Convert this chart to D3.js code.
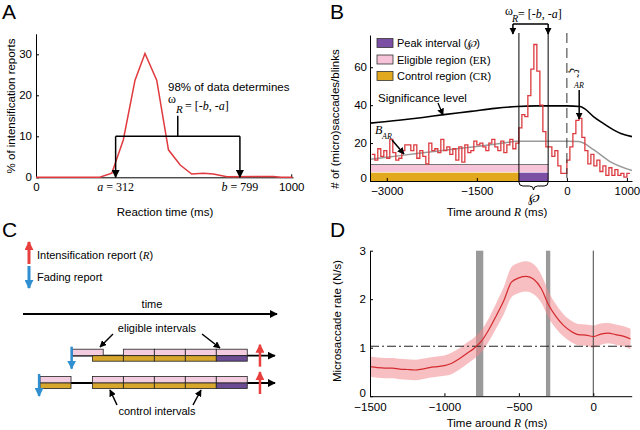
<!DOCTYPE html>
<html>
<head>
<meta charset="utf-8">
<script src="https://cdn.jsdelivr.net/npm/d3@7"></script>
<style>
body { margin: 0; background: #fff; }
svg { font-family: Arial, "Liberation Sans", sans-serif; }
.serif { font-family: "Liberation Serif", "Times New Roman", serif; }
</style>
</head>
<body>
<svg id="fig" width="640" height="430"></svg>
<script>
// ---------- A: reaction time distribution ----------
let rtTimes = [0, 250, 297, 342, 388, 427, 473, 519, 565, 610, 656, 695, 748, 930, 960, 1005]
let rtPercent = [0, 0, 1, 9.1, 23.7, 30.2, 23.7, 6.7, 3, 0.8, 1, 0.8, 0.15, 0.2, 0, 0]
let rtBounds = [312, 799]   // a, b
let aXTicks = [0, 1000]
let aYTicks = [0, 10, 20, 30]

// ---------- B: (micro)saccade histogram around R ----------
let histStart = -3250
let histBin = 50
let histCounts = [
    14, 11, 17, 13, 16, 12, 22, 15, 11, 12,
    16, 19, 19, 16, 19, 12, 16, 13, 9, 20,
    16, 17, 15, 22, 16, 18, 14, 17, 11, 18,
    10, 19, 15, 16, 21, 19, 20, 18, 16, 20,
    22, 18, 16, 21, 15, 19, 22, 17, 20,
    28, 35, 34, 45, 59, 72, 58, 40, 26,
    18, 18, 13, 16, 8, 4, 4,
    11, 18, 25, 32, 33, 23, 16, 9, 14, 8,
    11, 5, 8, 3, 7, 3, 6, 3, 4, 2, 4
]
let sigTimes = [-3280, -2800, -2400, -2050, -1600, -1200, -830, -500, 0, 220, 300, 443, 600, 722, 900, 1085]
let sigLevel = [30.5, 32, 33.5, 35, 36.7, 38.3, 39.3, 39.6, 39.6, 39.3, 38, 34, 30.5, 28, 25, 23.4]
let baseTimes = [-3280, -3000, -2500, -2000, -1500, -1000, -850, -500, 0, 200, 450, 720, 1085]
let baseLevel = [11.5, 12.5, 14.5, 16.4, 18.2, 20.3, 21, 21, 21, 20.8, 16.4, 10.2, 5.5]
let omegaR = [-799, -312]
let xiTime = 205
let bXTicks = [-3000, -1500, 0, 1000]
let bYTicks = [0, 20, 40, 60]
let legendNames = ["Peak interval (", "Eligible region (", "Control region ("]
let legendSymbols = ["\u2118", "ER", "CR"]
let legendColors = ["#7b4fa3", "#f6c3d9", "#e2a91e"]

// ---------- C: interval scheme (units of one interval) ----------
let fadeTimes = [-6.08, -7.13]
let eligibleStarts = [[-6.06, -4.41, -3.41, -2.41, -1.41], [-7.1, -5.41, -4.41, -3.41, -2.41, -1.41]]
let controlStarts = [[-5.41, -4.41, -3.41, -2.41], [-7.1, -5.41, -4.41, -3.41, -2.41]]
let peakStarts = [[-1.41], [-1.41]]

// ---------- D: microsaccade rate ----------
let dTimes = [-1500, -1450, -1400, -1350, -1300, -1250, -1200, -1150, -1100, -1050, -1000,
    -950, -900, -850, -800, -750, -700, -650, -600, -550, -500, -450, -400, -350, -300,
    -250, -200, -150, -100, -50, 0, 50, 100, 150, 200, 250]
let dRate = [0.61, 0.59, 0.58, 0.58, 0.56, 0.55, 0.54, 0.56, 0.59, 0.61, 0.63,
    0.68, 0.77, 0.88, 0.99, 1.14, 1.38, 1.67, 1.98, 2.35, 2.44, 2.47, 2.41, 2.22, 1.88,
    1.64, 1.46, 1.34, 1.27, 1.26, 1.23, 1.28, 1.30, 1.27, 1.24, 1.18]
let dSem = [0.21, 0.21, 0.21, 0.21, 0.21, 0.21, 0.21, 0.21, 0.21, 0.21, 0.21,
    0.22, 0.22, 0.22, 0.22, 0.23, 0.24, 0.26, 0.28, 0.31, 0.31, 0.31, 0.31, 0.29, 0.27,
    0.25, 0.23, 0.22, 0.22, 0.22, 0.23, 0.22, 0.21, 0.21, 0.21, 0.21]
let dBands = [[-788, -739], [-318, -289]]
let dThreshold = 1.03
let dXTicks = [-1500, -1000, -500, 0]
let dYTicks = [0, 1, 2, 3]


let svg = d3.select("#fig")
let defs = svg.append("defs")
let fmt = d3.format("d")

let addMarker = (id, color, size) => {
    defs.append("marker")
        .attr("id", id)
        .attr("viewBox", "0 0 10 10")
        .attr("refX", 9)
        .attr("refY", 5)
        .attr("markerUnits", "userSpaceOnUse")
        .attr("markerWidth", size)
        .attr("markerHeight", size)
        .attr("orient", "auto")
        .append("path")
        .attr("d", "M0,0 L10,5 L0,10 z")
        .attr("fill", color)
}
addMarker("arrK", "#000", 8)
addMarker("arrKs", "#000", 7)
addMarker("arrR", "#e8403f", 9)
addMarker("arrB", "#2f8fd0", 9)

let arrow = (x1, y1, x2, y2, marker, color, width) => {
    svg.append("line")
        .attr("x1", x1).attr("y1", y1).attr("x2", x2).attr("y2", y2)
        .attr("stroke", color).attr("stroke-width", width)
        .attr("marker-end", "url(#" + marker + ")")
}

let styleAxis = (g) => {
    g.attr("font-size", 11.5).attr("font-family", null)
    g.selectAll("text").attr("fill", "#000")
    g.selectAll("path, line").attr("stroke", "#000")
}

// lift the "0" label of a left axis a little, like the original
let liftZero = (g) => {
    g.selectAll(".tick text").filter(d => d === 0).attr("dy", "0.05em")
}

let panelLabel = (txt, x, y) => {
    svg.append("text").attr("x", x).attr("y", y).attr("font-size", 21).text(txt)
}

let serifText = (x, y, txt, size, italic, anchor) => {
    return svg.append("text").attr("class", "serif")
        .attr("x", x).attr("y", y)
        .attr("font-size", size)
        .attr("font-style", italic ? "italic" : null)
        .attr("text-anchor", anchor || "start")
        .text(txt)
}

// ================= Panel A =================
let drawA = () => {
    let x = d3.scaleLinear().domain([0, 1007]).range([36, 293])
    let y = d3.scaleLinear().domain([0, 35]).range([177.3, 33.8])

    svg.append("g").attr("transform", "translate(0,177.3)")
        .call(d3.axisBottom(x).tickValues(aXTicks).tickFormat(fmt).tickSizeInner(-3).tickSizeOuter(0).tickPadding(6))
        .call(styleAxis)
    svg.append("g").attr("transform", "translate(36,0)")
        .call(d3.axisLeft(y).tickValues(aYTicks).tickFormat(fmt).tickSizeInner(-3).tickSizeOuter(0).tickPadding(4))
        .call(styleAxis)

    svg.append("path")
        .datum(rtTimes.map((t, i) => [t, rtPercent[i]]))
        .attr("d", d3.line().x(d => x(d[0])).y(d => y(d[1])))
        .attr("fill", "none")
        .attr("stroke", "#e03a3e")
        .attr("stroke-width", 1.5)

    // bracket with arrows at a and b
    svg.append("line")
        .attr("x1", x(rtBounds[0])).attr("x2", x(rtBounds[1]))
        .attr("y1", y(10)).attr("y2", y(10))
        .attr("stroke", "#000").attr("stroke-width", 1.5)
    rtBounds.forEach(b => arrow(x(b), y(10), x(b), y(0), "arrK", "#000", 1.5))
    let mid = (x(rtBounds[0]) + x(rtBounds[1])) / 2
    svg.append("line").attr("x1", mid).attr("x2", mid).attr("y1", y(10)).attr("y2", 115.7)
        .attr("stroke", "#000").attr("stroke-width", 1.5)

    svg.append("text").attr("x", 168).attr("y", 91).attr("font-size", 11.5).text("98% of data determines")
    serifText(168, 103, "\u03c9", 12, false)
    serifText(176, 113, "R", 11, true)
    let t = serifText(185, 110, "= [-", 12, false)
    t.append("tspan").attr("font-style", "italic").text("b")
    t.append("tspan").text(", -")
    t.append("tspan").attr("font-style", "italic").text("a")
    t.append("tspan").text("]")

    let labs = ["a", "b"]
    rtBounds.forEach((b, i) => {
        let tt = serifText(x(b), 191, "", 12, false, "middle")
        tt.append("tspan").attr("font-style", "italic").text(labs[i])
        tt.append("tspan").text(" = " + b)
    })

    svg.append("text").attr("x", 165).attr("y", 216).attr("text-anchor", "middle")
        .attr("font-size", 11.5).text("Reaction time (ms)")
    svg.append("text").attr("transform", "translate(15,106) rotate(-90)")
        .attr("text-anchor", "middle").attr("font-size", 11.5).text("% of intensification reports")

    panelLabel("A", 2, 19)
}

// ================= Panel B =================
let drawB = () => {
    let x = d3.scaleLinear().domain([-3280, 1085]).range([370, 632])
    let y = d3.scaleLinear().domain([0, 77]).range([181, 35])

    // region bars
    svg.append("rect")
        .attr("x", x(-3280)).attr("width", x(omegaR[1]) - x(-3280))
        .attr("y", y(8.7)).attr("height", y(4.8) - y(8.7))
        .attr("fill", legendColors[1])
    svg.append("line")
        .attr("x1", x(-3280)).attr("x2", x(omegaR[1]))
        .attr("y1", y(8.7)).attr("y2", y(8.7))
        .attr("stroke", "#777").attr("stroke-width", 1)
    svg.append("rect")
        .attr("x", x(-3280)).attr("width", x(omegaR[0]) - x(-3280))
        .attr("y", y(4.4)).attr("height", y(0) - y(4.4))
        .attr("fill", legendColors[2])
    svg.append("rect")
        .attr("x", x(omegaR[0])).attr("width", x(omegaR[1]) - x(omegaR[0]))
        .attr("y", y(4.4)).attr("height", y(0) - y(4.4))
        .attr("fill", legendColors[0])

    // baseline and significance level
    svg.append("path")
        .datum(baseTimes.map((t, i) => [t, baseLevel[i]]))
        .attr("d", d3.line().x(d => x(d[0])).y(d => y(d[1])).curve(d3.curveMonotoneX))
        .attr("fill", "none").attr("stroke", "#9a9a9a").attr("stroke-width", 1.5)
    svg.append("path")
        .datum(sigTimes.map((t, i) => [t, sigLevel[i]]))
        .attr("d", d3.line().x(d => x(d[0])).y(d => y(d[1])).curve(d3.curveMonotoneX))
        .attr("fill", "none").attr("stroke", "#000").attr("stroke-width", 1.6)

    // histogram
    let pts = histCounts.map((c, i) => [histStart + i * histBin, c])
    pts.push([histStart + histCounts.length * histBin, histCounts[histCounts.length - 1]])
    svg.append("path")
        .datum(pts)
        .attr("d", d3.line().x(d => x(d[0])).y(d => y(d[1])).curve(d3.curveStepAfter))
        .attr("fill", "none").attr("stroke", "#dc3a3f").attr("stroke-width", 1.3)

    // omega lines and zero line
    omegaR.forEach(t => {
        svg.append("line").attr("x1", x(t)).attr("x2", x(t)).attr("y1", 33).attr("y2", y(0))
            .attr("stroke", "#000").attr("stroke-width", 1)
    })
    svg.append("line").attr("x1", x(0)).attr("x2", x(0)).attr("y1", 33).attr("y2", y(0))
        .attr("stroke", "#333").attr("stroke-width", 1).attr("stroke-dasharray", "10,5")

    svg.append("g").attr("transform", "translate(0,181)")
        .call(d3.axisBottom(x).tickValues(bXTicks).tickFormat(fmt).tickSizeInner(-3).tickSizeOuter(0).tickPadding(6))
        .call(styleAxis)
    svg.append("g").attr("transform", "translate(370,0)")
        .call(d3.axisLeft(y).tickValues(bYTicks).tickFormat(fmt).tickSizeInner(-3).tickSizeOuter(0).tickPadding(3))
        .call(styleAxis)
        .call(liftZero)

    // bracket on top
    svg.append("line").attr("x1", x(omegaR[0]) - 6).attr("x2", x(omegaR[1]))
        .attr("y1", 24).attr("y2", 24).attr("stroke", "#000").attr("stroke-width", 1.5)
    arrow(x(omegaR[0]) - 6, 24, x(omegaR[0]) - 6, 34, "arrKs", "#000", 1.5)
    arrow(x(omegaR[1]), 24, x(omegaR[1]), 34, "arrKs", "#000", 1.5)
    serifText(505, 15, "\u03c9", 12, false)
    serifText(512, 21.5, "R", 10, true)
    let t = serifText(518, 17.5, "= [-", 12, false)
    t.append("tspan").attr("font-style", "italic").text("b")
    t.append("tspan").text(", -")
    t.append("tspan").attr("font-style", "italic").text("a")
    t.append("tspan").text("]")

    // brace under the peak interval
    let x1 = x(omegaR[0]), x2 = x(omegaR[1]), m = (x1 + x2) / 2
    svg.append("path")
        .attr("d", `M${x1},182 Q${x1},186 ${x1 + 4},186 L${m - 4},186 Q${m},186 ${m},190 Q${m},186 ${m + 4},186 L${x2 - 4},186 Q${x2},186 ${x2},182`)
        .attr("fill", "none").attr("stroke", "#000").attr("stroke-width", 1)
    serifText(m, 202, "\u2118", 13, true, "middle")

    // xi annotation
    svg.append("text").attr("class", "serif").attr("font-size", 12).attr("font-style", "italic")
        .attr("transform", "translate(570,68) rotate(90)").text("\u03be\u0303")
    serifText(574, 88, "AR", 8, true)
    arrow(x(xiTime), 90, x(xiTime), 119, "arrKs", "#000", 1.5)

    // significance level label
    svg.append("text").attr("x", 378).attr("y", 102).attr("font-size", 11.5).text("Significance level")
    arrow(438, 103, 443, 115, "arrKs", "#000", 1.3)

    // B_AR label
    serifText(375, 134, "B", 12, true)
    serifText(382, 139, "AR", 8, true)
    arrow(392, 140, 404, 154, "arrKs", "#000", 1.5)

    // legend
    legendNames.forEach((name, i) => {
        let ly = 43 + i * 16.5
        svg.append("rect").attr("x", 377).attr("y", ly - 4.5).attr("width", 16).attr("height", 9)
            .attr("fill", legendColors[i]).attr("stroke", "#333").attr("stroke-width", 0.8)
        let tt = svg.append("text").attr("x", 397).attr("y", ly + 4).attr("font-size", 11).text(name)
        tt.append("tspan").attr("class", "serif").attr("font-style", i == 0 ? "italic" : null).text(legendSymbols[i])
        tt.append("tspan").text(")")
    })

    let xl = svg.append("text").attr("x", 497).attr("y", 216).attr("text-anchor", "middle")
        .attr("font-size", 11.5).text("Time around ")
    xl.append("tspan").attr("class", "serif").attr("font-style", "italic").text("R")
    xl.append("tspan").text(" (ms)")
    svg.append("text").attr("transform", "translate(339,119) rotate(-90)")
        .attr("text-anchor", "middle").attr("font-size", 11.5).text("# of (micro)saccades/blinks")

    panelLabel("B", 330, 19)
}

// ================= Panel C =================
let drawC = () => {
    let x = d3.scaleLinear().domain([-7.65, 0.55]).range([23, 277])
    let rowY = d3.scalePoint().domain([0, 1]).range([355.7, 383])

    // legend
    arrow(29, 264, 29, 242, "arrR", "#e8403f", 3)
    arrow(29, 266, 29, 288, "arrB", "#2f8fd0", 3)
    let t = svg.append("text").attr("x", 37).attr("y", 259).attr("font-size", 11).text("Intensification report (")
    t.append("tspan").attr("class", "serif").attr("font-style", "italic").text("R")
    t.append("tspan").text(")")
    svg.append("text").attr("x", 37).attr("y", 281).attr("font-size", 11).text("Fading report")

    svg.append("text").attr("x", 152).attr("y", 308).attr("text-anchor", "middle").attr("font-size", 11).text("time")
    arrow(x(-7.65), 314, x(0.55), 314, "arrK", "#000", 1.8)

    fadeTimes.forEach((f, r) => {
        let y0 = rowY(r)
        svg.append("line").attr("x1", x(f)).attr("x2", x(0.55) - 2).attr("y1", y0).attr("y2", y0)
            .attr("stroke", "#000").attr("stroke-width", 1.8).attr("marker-end", "url(#arrK)")
        eligibleStarts[r].forEach(s => {
            svg.append("rect").attr("x", x(s)).attr("width", x(s + 1) - x(s))
                .attr("y", y0 - 6.5).attr("height", 6.5)
                .attr("fill", "#f3cce0").attr("stroke", "#222").attr("stroke-width", 0.8)
        })
        controlStarts[r].forEach(s => {
            svg.append("rect").attr("x", x(s)).attr("width", x(s + 1) - x(s))
                .attr("y", y0).attr("height", 5.5)
                .attr("fill", "#d6a72c").attr("stroke", "#222").attr("stroke-width", 0.8)
        })
        peakStarts[r].forEach(s => {
            svg.append("rect").attr("x", x(s)).attr("width", x(s + 1) - x(s))
                .attr("y", y0).attr("height", 5.5)
                .attr("fill", "#6b4b91").attr("stroke", "#222").attr("stroke-width", 0.8)
        })
        arrow(x(f), y0 - 9, x(f), y0 + 13, "arrB", "#2f8fd0", 2.5)
        arrow(x(0), y0 + 11, x(0), y0 - 11, "arrR", "#e8403f", 2.5)
    })

    svg.append("text").attr("x", 157).attr("y", 332).attr("text-anchor", "middle").attr("font-size", 11).text("eligible intervals")
    arrow(113, 334, 100, 347, "arrKs", "#000", 1.5)
    arrow(202, 334, 220, 348, "arrKs", "#000", 1.5)
    svg.append("text").attr("x", 157).attr("y", 415).attr("text-anchor", "middle").attr("font-size", 11).text("control intervals")
    arrow(117, 405, 110, 390, "arrKs", "#000", 1.5)
    arrow(193, 405, 201, 390, "arrKs", "#000", 1.5)

    panelLabel("C", 2, 237)
}

// ================= Panel D =================
let drawD = () => {
    let x = d3.scaleLinear().domain([-1500, 258]).range([370, 631.7])
    let y = d3.scaleLinear().domain([0, 3]).range([396.2, 250.7])

    dBands.forEach(b => {
        svg.append("rect").attr("x", x(b[0])).attr("width", x(b[1]) - x(b[0]))
            .attr("y", 250.7).attr("height", 396.2 - 250.7)
            .attr("fill", "#9a9a9a")
    })

    let data = dTimes.map((t, i) => ({ t: t, m: dRate[i], s: dSem[i] }))
    svg.append("path")
        .datum(data)
        .attr("d", d3.area().x(d => x(d.t)).y0(d => y(d.m - d.s)).y1(d => y(d.m + d.s)).curve(d3.curveMonotoneX))
        .attr("fill", "#f08a8e").attr("opacity", 0.55)

    svg.append("line").attr("x1", x(-1500)).attr("x2", x(258)).attr("y1", y(dThreshold)).attr("y2", y(dThreshold))
        .attr("stroke", "#222").attr("stroke-width", 1).attr("stroke-dasharray", "9,3,2,3")
    svg.append("line").attr("x1", x(0)).attr("x2", x(0)).attr("y1", 250.7).attr("y2", 396.2)
        .attr("stroke", "#444").attr("stroke-width", 1)

    svg.append("path")
        .datum(data)
        .attr("d", d3.line().x(d => x(d.t)).y(d => y(d.m)).curve(d3.curveMonotoneX))
        .attr("fill", "none").attr("stroke", "#d42a2f").attr("stroke-width", 1.2)

    svg.append("g").attr("transform", "translate(0,396.2)")
        .call(d3.axisBottom(x).tickValues(dXTicks).tickFormat(fmt).tickSizeInner(-3).tickSizeOuter(0).tickPadding(7))
        .call(styleAxis)
    svg.append("g").attr("transform", "translate(370,0)")
        .call(d3.axisLeft(y).tickValues(dYTicks).tickFormat(fmt).tickSizeInner(-3).tickSizeOuter(0).tickPadding(4))
        .call(styleAxis)
        .call(liftZero)

    let xl = svg.append("text").attr("x", 497).attr("y", 427).attr("text-anchor", "middle")
        .attr("font-size", 11.5).text("Time around ")
    xl.append("tspan").attr("class", "serif").attr("font-style", "italic").text("R")
    xl.append("tspan").text(" (ms)")
    svg.append("text").attr("transform", "translate(341,321) rotate(-90)")
        .attr("text-anchor", "middle").attr("font-size", 11.5).text("Microsaccade rate (N/s)")

    panelLabel("D", 330, 237)
}

drawA()
drawB()
drawC()
drawD()
</script>
</body>
</html>
